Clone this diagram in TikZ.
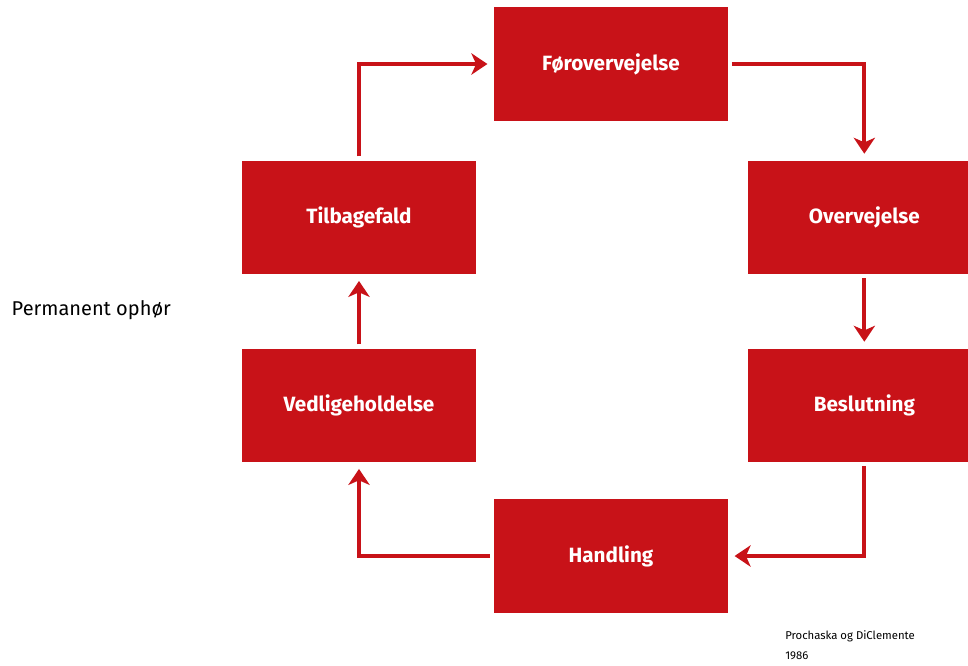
\documentclass[tikz,border=0pt]{standalone}
\usepackage{fontspec}
\setmainfont{Fira Sans}
\usetikzlibrary{arrows.meta,positioning}
\definecolor{cyclered}{RGB}{200,18,24}
\begin{document}
\begin{tikzpicture}[x=0.75pt,y=-0.75pt,on grid,
   box/.style={fill=cyclered,text=white,minimum width=175pt,minimum height=85pt,
               inner sep=0pt,font=\fontsize{15.5}{18}\selectfont\bfseries},
   flow/.style={draw=cyclered,line width=3pt,shorten <=3pt,shorten >=5pt,
               -{Stealth[length=12pt,width=16pt,inset=3.5pt]}}]
   \clip (0,0) rectangle (968,665);
   \node[box] (forov) at (611,64) {Førovervejelse};
   \node[box] (overv) [below right=115pt and 190pt of forov] {Overvejelse};
   \node[box] (beslut) [below=141pt of overv] {Beslutning};
   \node[box] (handl) [below left=113pt and 190pt of beslut] {Handling};
   \node[box] (vedl) [above left=113pt and 189pt of handl] {Vedligeholdelse};
   \node[box] (tilb) [above=141pt of vedl] {Tilbagefald};
   \node[anchor=west,font=\fontsize{15}{17}\selectfont] (perm) at (7,310) {Permanent ophør};
   \node[anchor=north west,align=left,inner sep=0pt,
         font=\fontsize{8.5}{15}\selectfont] (kilde) at (785,630) {Prochaska og DiClemente\\1986};
    \draw[flow] (tilb.north) |- (forov.west);
    \draw[flow] (forov.east) -| (overv.north);
    \draw[flow] (overv) -- (beslut);
    \draw[flow] (beslut.south) |- (handl.east);
    \draw[flow] (handl.west) -| (vedl.south);
    \draw[flow] (vedl) -- (tilb);
\end{tikzpicture}
\end{document}
